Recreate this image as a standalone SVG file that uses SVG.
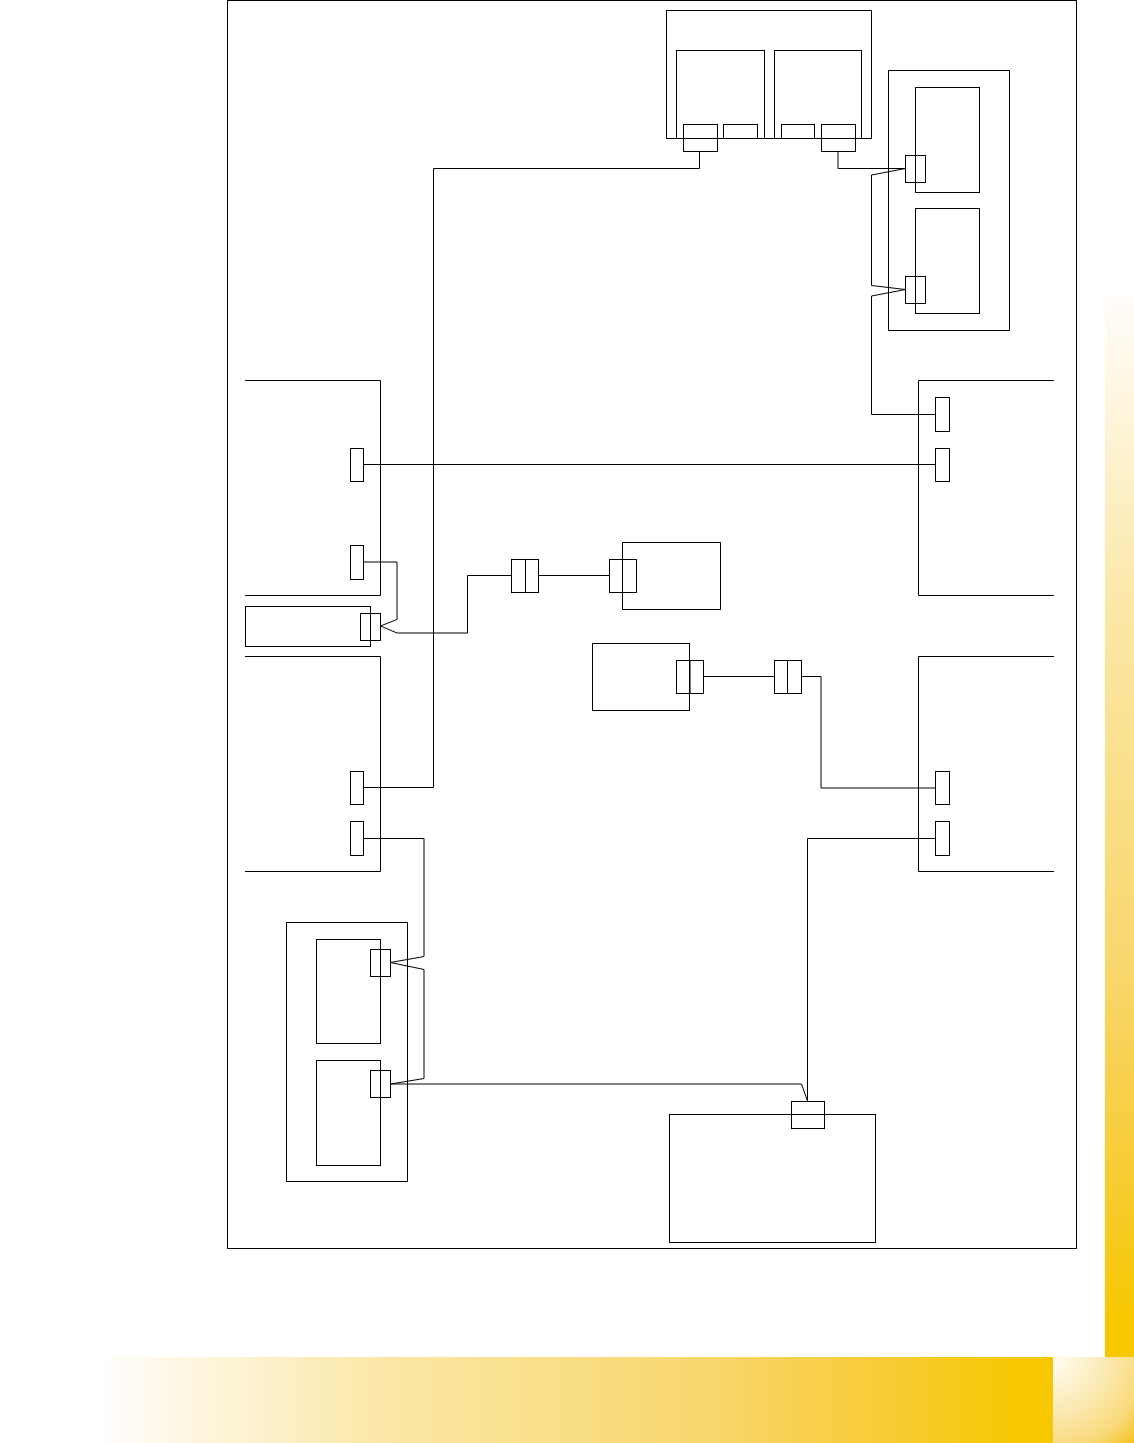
<svg xmlns="http://www.w3.org/2000/svg" width="1134" height="1443" viewBox="0 0 1134 1443">
<style>
.b{fill:none;stroke:#000;stroke-width:1}
.c{fill:none;stroke:#000;stroke-width:1;stroke-linejoin:miter}
</style>
<defs>
<linearGradient id="gv" x1="0" y1="0" x2="0" y2="1"><stop offset="0" stop-color="#fffdfb"/><stop offset=".3" stop-color="#fbe7a5"/><stop offset=".63" stop-color="#f8d76e"/><stop offset=".73" stop-color="#f8d050"/><stop offset=".84" stop-color="#f7cc30"/><stop offset=".965" stop-color="#f7c700"/><stop offset="1" stop-color="#f7c700"/></linearGradient>
<linearGradient id="gh" x1="0" y1="0" x2="1" y2="0"><stop offset="0" stop-color="#fffdfb"/><stop offset=".3" stop-color="#fbe7a5"/><stop offset=".63" stop-color="#f8d76e"/><stop offset=".73" stop-color="#f8d050"/><stop offset=".84" stop-color="#f7cc30"/><stop offset=".965" stop-color="#f7c700"/><stop offset="1" stop-color="#f7c700"/></linearGradient>
<radialGradient id="gc" gradientUnits="userSpaceOnUse" cx="1053" cy="1357" r="115"><stop offset="0" stop-color="#fffdf6"/><stop offset=".5" stop-color="#fbe8ae"/><stop offset=".8" stop-color="#f9d979"/><stop offset="1" stop-color="#f6c52a"/></radialGradient>
</defs>
<rect width="1134" height="1443" fill="#fff"/>
<g id="decor">
<rect x="1105" y="294" width="29" height="1063" fill="url(#gv)"/>
<rect x="106" y="1357" width="947" height="86" fill="url(#gh)"/>
<rect x="1053" y="1357" width="81" height="86" fill="url(#gc)"/>
</g>
<g id="frame"><rect class="b" x="227.500" y="0.500" width="849" height="1248"/></g>
<g id="connectors">
<path class="c" d="M699.500 151.500V168.500H433.500V787.500H364"/>
<path class="c" d="M838 151.500V168.500H905.500"/>
<path class="c" d="M905.500 168.500L871.500 175V285.500L905.500 289.500L871.500 296V414.500H935"/>
<path class="c" d="M364 464.500H935"/>
<path class="c" d="M364 562H397V619.500L380.500 626L397 633H467.500V575.500H511"/>
<path class="c" d="M539 575.500H609"/>
<path class="c" d="M704 676.500H774"/>
<path class="c" d="M801 676.500H821V788H935"/>
<path class="c" d="M364 838.500H424V956.500L390.500 962.500L424 969.500V1078.500L390.500 1084H801.500L807.500 1101V838.500H935"/>
</g>
<g id="n-top"><rect class="b" x="666.500" y="10.500" width="205" height="128"/><rect class="b" x="676.500" y="50.500" width="88" height="88"/><rect class="b" x="774.500" y="50.500" width="87" height="88"/><rect class="b" x="683.500" y="124.500" width="34" height="27"/><rect class="b" x="723.500" y="124.500" width="34" height="14"/><rect class="b" x="781.500" y="124.500" width="33" height="14"/><rect class="b" x="821.500" y="124.500" width="34" height="27"/></g>
<g id="n-right-top"><rect class="b" x="888.500" y="70.500" width="121" height="260"/><rect class="b" x="915.500" y="87.500" width="64" height="105"/><rect class="b" x="915.500" y="208.500" width="64" height="105"/><rect class="b" x="905.500" y="155.500" width="20" height="27"/><rect class="b" x="905.500" y="276.500" width="20" height="27"/></g>
<g id="n-left-a"><path class="b" d="M245 380.500H380.500V595.500H245"/><rect class="b" x="350.500" y="448.500" width="13" height="33"/><rect class="b" x="350.500" y="545.500" width="13" height="34"/></g>
<g id="n-left-strip"><rect class="b" x="245.500" y="606.500" width="125" height="40"/><rect class="b" x="360.500" y="613.500" width="20" height="27"/></g>
<g id="n-left-b"><path class="b" d="M245 656.500H380.500V871.500H245"/><rect class="b" x="350.500" y="771.500" width="13" height="33"/><rect class="b" x="350.500" y="821.500" width="13" height="34"/></g>
<g id="n-right-a"><path class="b" d="M1054 380.500H918.500V595.500H1054"/><rect class="b" x="935.500" y="397.500" width="14" height="34"/><rect class="b" x="935.500" y="448.500" width="14" height="33"/></g>
<g id="n-right-b"><path class="b" d="M1054 656.500H918.500V871.500H1054"/><rect class="b" x="935.500" y="771.500" width="14" height="33"/><rect class="b" x="935.500" y="821.500" width="14" height="34"/></g>
<g id="n-mid-a"><rect class="b" x="622.500" y="542.500" width="98" height="67"/><rect class="b" x="609.500" y="559.500" width="27" height="33"/></g>
<g id="n-splice-a"><rect class="b" x="511.500" y="559.500" width="27" height="33"/><path class="b" d="M525.500 559.500V592.500"/></g>
<g id="n-mid-b"><rect class="b" x="592.500" y="643.500" width="97" height="67"/><rect class="b" x="676.500" y="660.500" width="27" height="33"/><path class="b" d="M690 660.500V693.500"/></g>
<g id="n-splice-b"><rect class="b" x="774.500" y="660.500" width="27" height="33"/><path class="b" d="M787.500 660.500V693.500"/></g>
<g id="n-left-bottom"><rect class="b" x="286.500" y="922.500" width="121" height="259"/><rect class="b" x="316.500" y="939.500" width="64" height="104"/><rect class="b" x="316.500" y="1060.500" width="64" height="105"/><rect class="b" x="370.500" y="949.500" width="20" height="27"/><rect class="b" x="370.500" y="1070.500" width="20" height="27"/></g>
<g id="n-bottom"><rect class="b" x="669.500" y="1114.500" width="206" height="128"/><rect class="b" x="791.500" y="1101.500" width="33" height="27"/></g>
</svg>
